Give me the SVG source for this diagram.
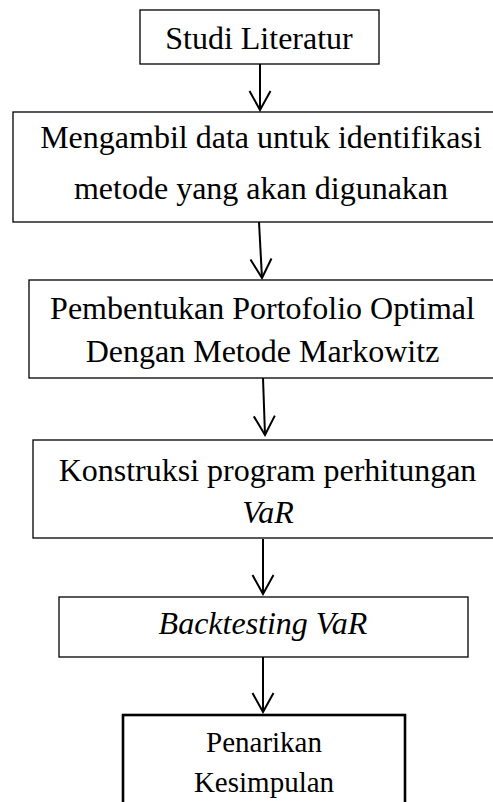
<svg xmlns="http://www.w3.org/2000/svg" width="493" height="802" viewBox="0 0 493 802">
<style>
.box{fill:#fff;stroke:#000;stroke-width:1.3}
.thick{stroke-width:2.6}
.t{font-size:32px;fill:#000;text-anchor:middle}
.s{font-size:29px}
.i{font-style:italic}
.c{fill:none;stroke:#000;stroke-width:2}
</style>
<defs>
<marker id="ah" markerUnits="userSpaceOnUse" viewBox="-22 -12 24 24" refX="0" refY="0" markerWidth="24" markerHeight="24" orient="auto">
<path d="M-19,-10.5 L0,0 L-19,10.5" fill="none" stroke="#000" stroke-width="2"/>
</marker>
</defs>
<g id="connectors">
<path class="c" d="M260,64 L260,110" marker-end="url(#ah)"/>
<path class="c" d="M259,222 L262,278" marker-end="url(#ah)"/>
<path class="c" d="M263,378 L265,435" marker-end="url(#ah)"/>
<path class="c" d="M263,539 L263,594" marker-end="url(#ah)"/>
<path class="c" d="M263,657 L263,712" marker-end="url(#ah)"/>
</g>
<g font-family="Liberation Serif, Times New Roman, serif">
<g id="n1">
<rect class="box" x="140" y="10" width="239" height="54"/>
<text class="t" x="259" y="49">Studi Literatur</text>
</g>
<g id="n2">
<rect class="box" x="13" y="112" width="500" height="110"/>
<text class="t" x="261" y="148">Mengambil data untuk identifikasi</text>
<text class="t" x="261" y="199">metode yang akan digunakan</text>
</g>
<g id="n3">
<rect class="box" x="29" y="280" width="480" height="98"/>
<text class="t" x="262.5" y="319">Pembentukan Portofolio Optimal</text>
<text class="t" x="262.5" y="362">Dengan Metode Markowitz</text>
</g>
<g id="n4">
<rect class="box" x="33" y="440" width="480" height="98"/>
<text class="t" x="267.5" y="481">Konstruksi program perhitungan</text>
<text class="t i" x="268" y="523">VaR</text>
</g>
<g id="n5">
<rect class="box" x="59" y="597" width="409" height="60"/>
<text class="t i" x="263" y="634">Backtesting VaR</text>
</g>
<g id="n6">
<rect class="box thick" x="123" y="715" width="282" height="120"/>
<text class="t s" x="264" y="752">Penarikan</text>
<text class="t s" x="264" y="792">Kesimpulan</text>
</g>
</g>
</svg>
